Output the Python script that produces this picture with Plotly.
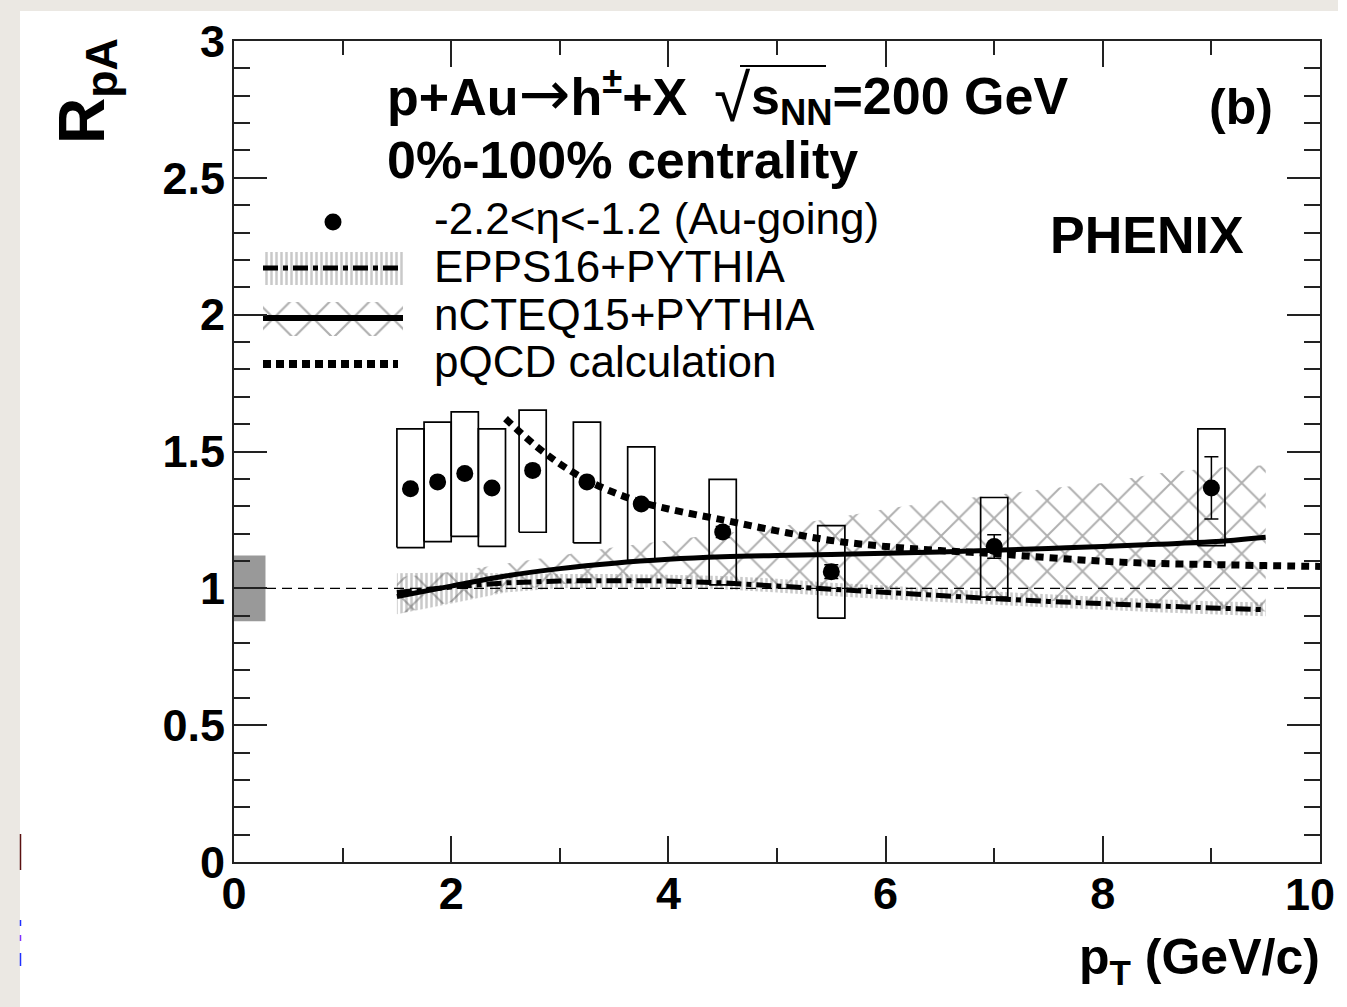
import plotly.graph_objects as go

# ---------------- data ----------------
pt = [1.625, 1.875, 2.125, 2.375, 2.75, 3.25, 3.75, 4.5, 5.5, 7.0, 9.0]
rpa = [1.364, 1.389, 1.420, 1.367, 1.431, 1.389, 1.308, 1.206, 1.061, 1.153, 1.367]
stat_err = [0.015, 0.015, 0.015, 0.015, 0.015, 0.015, 0.015, 0.02, 0.025, 0.043, 0.114]
sys_lo = [1.149, 1.171, 1.190, 1.153, 1.205, 1.166, 1.101, 1.013, 0.891, 0.968, 1.156]
sys_hi = [1.583, 1.607, 1.645, 1.583, 1.651, 1.607, 1.517, 1.398, 1.229, 1.332, 1.583]

model_pt = [1.5, 2.0, 2.5, 3.0, 3.5, 4.0, 4.5, 5.0, 5.5, 6.0, 6.5, 7.0, 7.5, 8.0, 8.5, 9.0, 9.5]
epps_c = [0.985, 1.005, 1.020, 1.027, 1.028, 1.027, 1.020, 1.008, 0.995, 0.983, 0.972, 0.962, 0.952, 0.943, 0.935, 0.928, 0.922]
epps_hi = [1.055, 1.058, 1.055, 1.052, 1.052, 1.050, 1.045, 1.035, 1.020, 1.010, 0.998, 0.988, 0.978, 0.968, 0.960, 0.953, 0.948]
epps_lo = [0.905, 0.945, 0.985, 1.000, 1.003, 1.003, 0.997, 0.985, 0.972, 0.960, 0.950, 0.940, 0.930, 0.922, 0.913, 0.905, 0.898]

ncteq_c = [0.970, 1.008, 1.045, 1.072, 1.092, 1.106, 1.115, 1.120, 1.124, 1.128, 1.133, 1.139, 1.146, 1.153, 1.161, 1.170, 1.187]
ncteq_hi = [1.040, 1.060, 1.090, 1.120, 1.150, 1.175, 1.200, 1.225, 1.255, 1.290, 1.320, 1.340, 1.365, 1.385, 1.420, 1.440, 1.450]
ncteq_lo = [0.905, 0.950, 0.990, 1.015, 1.025, 1.030, 1.025, 1.015, 1.000, 0.990, 0.975, 0.965, 0.955, 0.945, 0.935, 0.925, 0.915]

pqcd_pt = [2.5, 2.75, 3.0, 3.25, 3.5, 3.75, 4.0, 4.5, 5.0, 5.5, 6.0, 6.5, 7.0, 7.5, 8.0, 8.5, 9.0, 9.5, 10.0]
pqcd = [1.62, 1.53, 1.455, 1.395, 1.35, 1.315, 1.29, 1.25, 1.21, 1.175, 1.153, 1.138, 1.127, 1.112, 1.099, 1.091, 1.087, 1.083, 1.080]

global_sys = 0.12
ref_value = 1.0

x_ticks = [0, 2, 4, 6, 8, 10]
y_ticks = [0, 0.5, 1, 1.5, 2, 2.5, 3]
y_ticktext = ["0", "0.5", "1", "1.5", "2", "2.5", "3"]

legend_labels = ["-2.2&lt;η&lt;-1.2 (Au-going)", "EPPS16+PYTHIA", "nCTEQ15+PYTHIA", "pQCD calculation"]

# ---------------- layout geometry ----------------
W, H = 1338, 1007
L, R, T, B = 234, 18, 41, 145
PW, PH = W - L - R, H - T - B
def px(x):
    return (x - L) / PW
def py(y):
    return (H - B - y) / PH

FONT = "Liberation Sans, Arial, Helvetica, sans-serif"
BOX_W = 0.25
GLOBAL_BOX_W = 0.29
EPPS_PATTERN = dict(shape="|", fgcolor="#949494", bgcolor="rgba(0,0,0,0)", size=5, solidity=0.5)
NCTEQ_PATTERN = dict(shape="x", fgcolor="#606060", bgcolor="rgba(0,0,0,0)", size=25, solidity=0.15)

fig = go.Figure()

# EPPS band
fig.add_trace(go.Scatter(
    x=model_pt + model_pt[::-1], y=epps_hi + epps_lo[::-1],
    fill="toself", mode="none", fillcolor="rgba(0,0,0,0)", fillpattern=EPPS_PATTERN,
    showlegend=False, hoverinfo="skip"))
# nCTEQ band
fig.add_trace(go.Scatter(
    x=model_pt + model_pt[::-1], y=ncteq_hi + ncteq_lo[::-1],
    fill="toself", mode="none", fillcolor="rgba(0,0,0,0)", fillpattern=NCTEQ_PATTERN,
    showlegend=False, hoverinfo="skip"))

# dashed reference line at 1
fig.add_trace(go.Scatter(x=[0, 10], y=[ref_value, ref_value], mode="lines",
                         line=dict(color="black", width=1.3, dash="10px,6px"),
                         showlegend=False, hoverinfo="skip"))

# systematic boxes
bx, by = [], []
for x, lo, hi in zip(pt, sys_lo, sys_hi):
    bx += [x - BOX_W / 2, x + BOX_W / 2, x + BOX_W / 2, x - BOX_W / 2, x - BOX_W / 2, None]
    by += [lo, lo, hi, hi, lo, None]
fig.add_trace(go.Scatter(x=bx, y=by, mode="lines", line=dict(color="black", width=1.7),
                         showlegend=False, hoverinfo="skip"))

# model lines
fig.add_trace(go.Scatter(x=model_pt, y=epps_c, mode="lines",
                         line=dict(color="black", width=5, dash="15px,5px,5px,5px"),
                         showlegend=False))
fig.add_trace(go.Scatter(x=model_pt, y=ncteq_c, mode="lines", line_shape="spline",
                         line=dict(color="black", width=5), showlegend=False))
fig.add_trace(go.Scatter(x=pqcd_pt, y=pqcd, mode="lines", line_shape="spline",
                         line=dict(color="black", width=7, dash="8px,6px"), showlegend=False))

# data points
fig.add_trace(go.Scatter(x=pt, y=rpa, mode="markers",
                         marker=dict(color="black", size=17, symbol="circle"),
                         error_y=dict(type="data", array=stat_err, color="black", thickness=1.5, width=7),
                         showlegend=False))

# ---------------- legend keys on an auxiliary pixel-space axis ----------------
lx0, lx1 = 263, 403
rows = [222, 268, 318, 364]
fig.add_trace(go.Scatter(x=[(lx0 + lx1) / 2], y=[rows[0]], xaxis="x2", yaxis="y2", mode="markers",
                         marker=dict(color="black", size=17), showlegend=False, hoverinfo="skip"))
fig.add_trace(go.Scatter(x=[lx0, lx1, lx1, lx0, lx0], y=[rows[1] - 16, rows[1] - 16, rows[1] + 17, rows[1] + 17, rows[1] - 16],
                         xaxis="x2", yaxis="y2", fill="toself", mode="none", fillcolor="rgba(0,0,0,0)",
                         fillpattern=EPPS_PATTERN, showlegend=False, hoverinfo="skip"))
fig.add_trace(go.Scatter(x=[lx0, lx1], y=[rows[1], rows[1]], xaxis="x2", yaxis="y2", mode="lines",
                         line=dict(color="black", width=5, dash="15px,5px,5px,5px"), showlegend=False, hoverinfo="skip"))
fig.add_trace(go.Scatter(x=[lx0, lx1, lx1, lx0, lx0], y=[rows[2] - 16, rows[2] - 16, rows[2] + 18, rows[2] + 18, rows[2] - 16],
                         xaxis="x2", yaxis="y2", fill="toself", mode="none", fillcolor="rgba(0,0,0,0)",
                         fillpattern=dict(NCTEQ_PATTERN, size=28), showlegend=False, hoverinfo="skip"))
fig.add_trace(go.Scatter(x=[lx0, lx1], y=[rows[2], rows[2]], xaxis="x2", yaxis="y2", mode="lines",
                         line=dict(color="black", width=6), showlegend=False, hoverinfo="skip"))
fig.add_trace(go.Scatter(x=[lx0, lx1 - 5], y=[rows[3], rows[3]], xaxis="x2", yaxis="y2", mode="lines",
                         line=dict(color="black", width=8, dash="8px,5px"), showlegend=False, hoverinfo="skip"))

annotations = []
for lab, yy in zip(legend_labels, [218, 266, 314, 362]):
    annotations.append(dict(text=lab, x=px(432), y=py(yy), xanchor="left", yanchor="middle",
                            font=dict(family=FONT, size=44, color="black")))

ARROW = '<span style="font-family:DejaVu Sans;font-weight:normal;font-size:62px">→</span>'
annotations += [
    dict(text="<b>p+Au" + ARROW + "h<sup>±</sup>+X</b>", x=px(385), y=py(93), xanchor="left", yanchor="middle",
         font=dict(family=FONT, size=52, color="black")),
    dict(text="√", x=px(712), y=py(98), xanchor="left", yanchor="middle",
         font=dict(family=FONT, size=66, color="black")),
    dict(text="<b>s<sub>NN</sub>=200 GeV</b>", x=px(749), y=py(100), xanchor="left", yanchor="middle",
         font=dict(family=FONT, size=52, color="black")),
    dict(text="<b>0%-100% centrality</b>", x=px(385), y=py(160), xanchor="left", yanchor="middle",
         font=dict(family=FONT, size=52, color="black")),
    dict(text="<b>(b)</b>", x=px(1241), y=py(107), xanchor="center", yanchor="middle",
         font=dict(family=FONT, size=50, color="black")),
    dict(text="<b>PHENIX</b>", x=px(1147), y=py(235), xanchor="center", yanchor="middle",
         font=dict(family=FONT, size=52, color="black")),
    dict(text="<b>R<sub>pA</sub></b>", x=px(86), y=py(36), xanchor="center", yanchor="top", textangle=-90,
         font=dict(family=FONT, size=64, color="black")),
    dict(text="<b>p<sub>T</sub> (GeV/c)</b>", x=px(1322), y=py(960), xanchor="right", yanchor="middle",
         font=dict(family=FONT, size=50, color="black")),
    # last x tick label, kept inside the page edge (the axis hides it past the div)
    dict(text="<b>" + str(x_ticks[-1]) + "</b>", x=px(1337), y=py(894), xanchor="right", yanchor="middle",
         font=dict(family=FONT, size=45, color="black")),
]
for a in annotations:
    a.setdefault("xref", "paper")
    a.setdefault("yref", "paper")
    a.setdefault("showarrow", False)

shapes = [
    dict(type="rect", xref="paper", yref="paper", x0=px(20), x1=px(W + 15), y0=py(H + 5), y1=py(11),
         fillcolor="white", line=dict(width=0), layer="below"),
    dict(type="line", xref="paper", yref="paper", x0=px(740), x1=px(826), y0=py(66), y1=py(66),
         line=dict(color="black", width=2)),
    dict(type="rect", xref="x", yref="y", x0=0, x1=GLOBAL_BOX_W, y0=ref_value - global_sys, y1=ref_value + global_sys,
         fillcolor="#999999", line=dict(width=0), layer="below"),
    dict(type="line", xref="paper", yref="paper", x0=px(20.5), x1=px(20.5), y0=py(834), y1=py(870),
         line=dict(color="#5a1010", width=1.5)),
    dict(type="line", xref="paper", yref="paper", x0=px(20.5), x1=px(20.5), y0=py(920), y1=py(926),
         line=dict(color="#2030ff", width=1.5)),
    dict(type="line", xref="paper", yref="paper", x0=px(20.5), x1=px(20.5), y0=py(935), y1=py(941),
         line=dict(color="#8030ff", width=1.5)),
    dict(type="line", xref="paper", yref="paper", x0=px(20.5), x1=px(20.5), y0=py(953), y1=py(966),
         line=dict(color="#2030ff", width=1.5)),
]

axis_common = dict(showline=True, linewidth=2, linecolor="#222222", mirror="ticks", ticks="inside",
                   tickcolor="#222222", tickwidth=1.5, showgrid=False, zeroline=False,
                   tickfont=dict(family=FONT, size=45, color="black", weight="bold"))

fig.update_layout(
    width=W, height=H, autosize=False,
    margin=dict(l=L, r=R, t=T, b=B, pad=0),
    paper_bgcolor="#ebe8e3", plot_bgcolor="white",
    showlegend=False,
    xaxis=dict(range=[0, 10], tickvals=x_ticks, ticktext=[str(v) for v in x_ticks], ticklen=26,
               minor=dict(dtick=1, ticklen=14, ticks="inside", tickcolor="#222222", tickwidth=1.5, showgrid=False),
               ticklabelstandoff=-9, **axis_common),
    yaxis=dict(range=[0, 3], tickvals=y_ticks, ticktext=y_ticktext, ticklen=33,
               minor=dict(dtick=0.1, ticklen=16, ticks="inside", tickcolor="#222222", tickwidth=1.5, showgrid=False),
               ticklabelstandoff=-2, **axis_common),
    xaxis2=dict(range=[L, W - R], overlaying="x", visible=False, fixedrange=True),
    yaxis2=dict(range=[H - B, T], overlaying="y", visible=False, fixedrange=True),
    annotations=annotations,
    shapes=shapes,
)

fig.write_html("out.html", config={"displayModeBar": False, "responsive": False},
               post_script="document.body.style.margin='0';document.body.style.padding='0';"
                           "document.body.style.background='white';"
                           "document.body.style.overflow='hidden';"
                           "document.documentElement.style.overflow='hidden';")
